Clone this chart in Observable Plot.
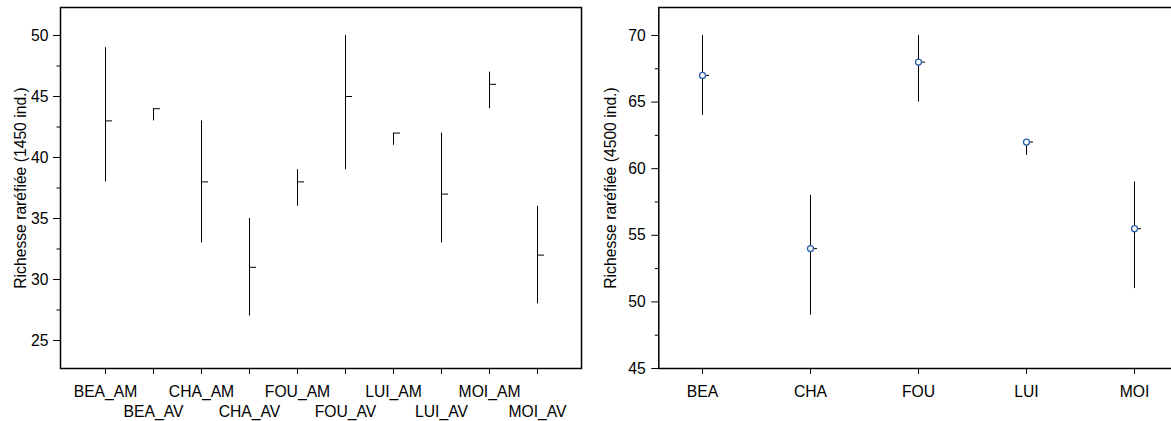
<!DOCTYPE html>
<html>
<head>
<meta charset="utf-8">
<script src="https://cdn.jsdelivr.net/npm/d3@7"></script>
<script src="https://cdn.jsdelivr.net/npm/@observablehq/plot@0.6"></script>
<style>
  html, body { margin: 0; padding: 0; background: #fff; overflow: hidden; }
  #wrap { display: flex; flex-direction: row; width: 1200px; }
  #wrap svg { display: block; flex: none; }
</style>
</head>
<body>
<div id="wrap"></div>
<script>
// ---- Left panel data (rarefied richness, 1450 ind.) ----
const leftCats = ["BEA_AM","BEA_AV","CHA_AM","CHA_AV","FOU_AM","FOU_AV","LUI_AM","LUI_AV","MOI_AM","MOI_AV"];
const leftMean = [43, 44, 38, 31, 38, 45, 42, 37, 46, 32];
const leftLow  = [38, 43, 33, 27, 36, 39, 41, 33, 44, 28];
const leftHigh = [49, 44, 43, 35, 39, 50, 42, 42, 47, 36];
const leftYTicks = [25, 30, 35, 40, 45, 50];
const leftYMinor = [27.5, 32.5, 37.5, 42.5, 47.5];
const leftLabel = "Richesse raréfiée (1450 ind.)";

// ---- Right panel data (rarefied richness, 4500 ind.) ----
const rightCats = ["BEA","CHA","FOU","LUI","MOI"];
const rightMean = [67, 54, 68, 62, 55.5];
const rightLow  = [64, 49, 65, 61, 51];
const rightHigh = [70, 58, 70, 62, 59];
const rightYTicks = [45, 50, 55, 60, 65, 70];
const rightYMinor = [47.5, 52.5, 57.5, 62.5, 67.5];
const rightLabel = "Richesse raréfiée (4500 ind.)";

const FONT = "'Liberation Sans', Arial, Helvetica, sans-serif";
const FS = 15.7;

const leftData = leftCats.map((c, i) => ({cat: c, mean: leftMean[i], lo: leftLow[i], hi: leftHigh[i]}));
const rightData = rightCats.map((c, i) => ({cat: c, mean: rightMean[i], lo: rightLow[i], hi: rightHigh[i]}));

const amCats = leftCats.filter((c, i) => i % 2 === 0);
const avCats = leftCats.filter((c, i) => i % 2 === 1);

// short horizontal tick to the right of each mean
const meanTick = (data) => Plot.vector(data, {
  x: "cat", y: "mean", length: 6.5, rotate: 90, anchor: "start", r: 0,
  stroke: "#000", strokeWidth: 1, strokeLinecap: "butt"
});

const leftPlot = Plot.plot({
  width: 590,
  height: 421,
  marginLeft: 60,
  marginRight: 9,
  marginTop: 7,
  marginBottom: 53,
  style: {fontFamily: FONT, fontSize: FS + "px", color: "#000", background: "#fff"},
  x: {type: "point", domain: leftCats, padding: 0.9},
  y: {domain: [22.705, 52.295]},
  marks: [
    Plot.frame({stroke: "#000", strokeWidth: 1.5}),
    Plot.axisY({ticks: leftYTicks, tickSize: 7, tickPadding: 5, fontSize: FS, label: null, stroke: "#000"}),
    Plot.axisY({ticks: leftYMinor, tickSize: 3.5, tickFormat: () => "", label: null, stroke: "#000"}),
    Plot.axisX({ticks: leftCats, tickSize: 6, tickFormat: () => "", label: null, stroke: "#000"}),
    Plot.axisX({ticks: amCats, tickSize: 0, tickPadding: 17.6, fontSize: FS, label: null}),
    Plot.axisX({ticks: avCats, tickSize: 0, tickPadding: 37.6, fontSize: FS, label: null}),
    Plot.text([leftLabel], {frameAnchor: "left", dx: -40, rotate: -90, textAnchor: "middle", fontSize: FS, fill: "#000"}),
    Plot.ruleX(leftData, {x: "cat", y1: "lo", y2: "hi", stroke: "#000", strokeWidth: 1}),
    meanTick(leftData)
  ]
});

const rightPlot = Plot.plot({
  width: 610,
  height: 421,
  marginLeft: 68.3,
  marginRight: 22.6,
  marginTop: 7,
  marginBottom: 53,
  style: {fontFamily: FONT, fontSize: FS + "px", color: "#000", background: "#fff"},
  x: {type: "point", domain: rightCats, padding: 0.4},
  y: {domain: [45, 72.1]},
  marks: [
    Plot.frame({stroke: "#000", strokeWidth: 1.5}),
    Plot.axisY({ticks: rightYTicks, tickSize: 7, tickPadding: 6, fontSize: FS, label: null, stroke: "#000"}),
    Plot.axisY({ticks: rightYMinor, tickSize: 3.5, tickFormat: () => "", label: null, stroke: "#000"}),
    Plot.axisX({ticks: rightCats, tickSize: 6, tickPadding: 11.6, fontSize: FS, label: null, stroke: "#000"}),
    Plot.text([rightLabel], {frameAnchor: "left", dx: -48, rotate: -90, textAnchor: "middle", fontSize: FS, fill: "#000"}),
    Plot.ruleX(rightData, {x: "cat", y1: "lo", y2: "hi", stroke: "#000", strokeWidth: 1}),
    meanTick(rightData),
    Plot.dot(rightData, {x: "cat", y: "mean", r: 3, fill: "#fff", stroke: "#2a5ea8", strokeWidth: 1.3})
  ]
});

document.getElementById("wrap").append(leftPlot, rightPlot);
</script>
</body>
</html>
